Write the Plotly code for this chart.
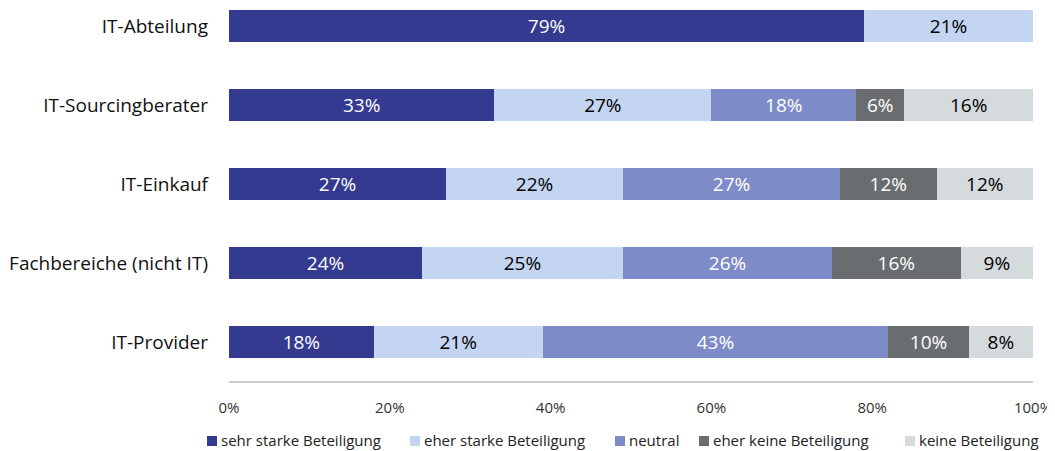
import plotly.graph_objects as go

categories = ["IT-Abteilung", "IT-Sourcingberater", "IT-Einkauf", "Fachbereiche (nicht IT)", "IT-Provider"]
series_names = ["sehr starke Beteiligung", "eher starke Beteiligung", "neutral", "eher keine Beteiligung", "keine Beteiligung"]
sehr_stark = [79, 33, 27, 24, 18]
eher_stark = [21, 27, 22, 25, 21]
neutral = [0, 18, 27, 26, 43]
eher_keine = [0, 6, 12, 16, 10]
keine = [0, 16, 12, 9, 8]
x_ticks = [0, 20, 40, 60, 80, 100]
x_ticklabels = ["0%", "20%", "40%", "60%", "80%", "100%"]

colors = ["#333A8F", "#C4D5F2", "#7D8BC8", "#696D70", "#D5DADD"]
text_colors = ["white", "black", "white", "white", "black"]
series = [sehr_stark, eher_stark, neutral, eher_keine, keine]

FONT = "Open Sans"
n = len(categories)
ypos = [n - 1 - i for i in range(n)]

W, H = 1047, 443  # page body has an 8px margin
ML, MR, MT, MB = 221, 22, 0, 69
PW, PH = W - ML - MR, H - MT - MB

fig = go.Figure()
for name, vals, col, tc in zip(series_names, series, colors, text_colors):
    fig.add_trace(go.Bar(
        y=ypos, x=vals, name=name, orientation="h",
        marker=dict(color=col, line=dict(width=0)),
        width=0.405,
        text=[f"{v}%" if v > 0 else "" for v in vals],
        textposition="inside", insidetextanchor="middle",
        textfont=dict(color=tc, size=19, family=FONT),
        hoverinfo="skip", showlegend=False,
    ))

fig.update_layout(
    barmode="stack",
    width=W, height=H,
    margin=dict(l=ML, r=MR, t=MT, b=MB, autoexpand=False),
    plot_bgcolor="white", paper_bgcolor="white",
    font=dict(family=FONT, size=14, color="#222222"),
    showlegend=False,
    xaxis=dict(range=[0, 100], tickvals=x_ticks, ticktext=x_ticklabels,
               showgrid=False, zeroline=False, showline=False, automargin=False,
               ticks="", ticklabelstandoff=15, tickfont=dict(size=15, color="#333333")),
    yaxis=dict(range=[-0.506, n - 1 + 18 / 79], tickvals=ypos, ticktext=categories,
               showgrid=False, zeroline=False, showline=False, ticks="", automargin=False,
               ticklabelstandoff=20, tickfont=dict(size=19, color="#111111")),
    uniformtext=dict(mode="show", minsize=8),
)
fig.add_shape(type="line", xref="paper", yref="paper", x0=0, x1=1, y0=0, y1=0,
              line=dict(color="#BFBFBF", width=1.5))

# legend (square marker + label), placed below the axis
legend_x = [207, 410, 615, 699, 905]  # page pixel x of each marker
def px_to_paper_x(px):
    return (px - 8 - ML) / PW
def px_to_paper_y(py):
    return (PH - (py - 8 - MT)) / PH

for name, col, lx in zip(series_names, colors, legend_x):
    fig.add_shape(type="rect", xref="paper", yref="paper",
                  x0=px_to_paper_x(lx), x1=px_to_paper_x(lx + 10),
                  y0=px_to_paper_y(446), y1=px_to_paper_y(436),
                  fillcolor=col, line=dict(width=0))
    fig.add_annotation(xref="paper", yref="paper", x=px_to_paper_x(lx + 13), y=px_to_paper_y(439.5),
                       xanchor="left", yanchor="middle", text=name, showarrow=False,
                       borderpad=0,
                       font=dict(size=15, family=FONT, color="#222222"))

fig.write_html("out.html")
